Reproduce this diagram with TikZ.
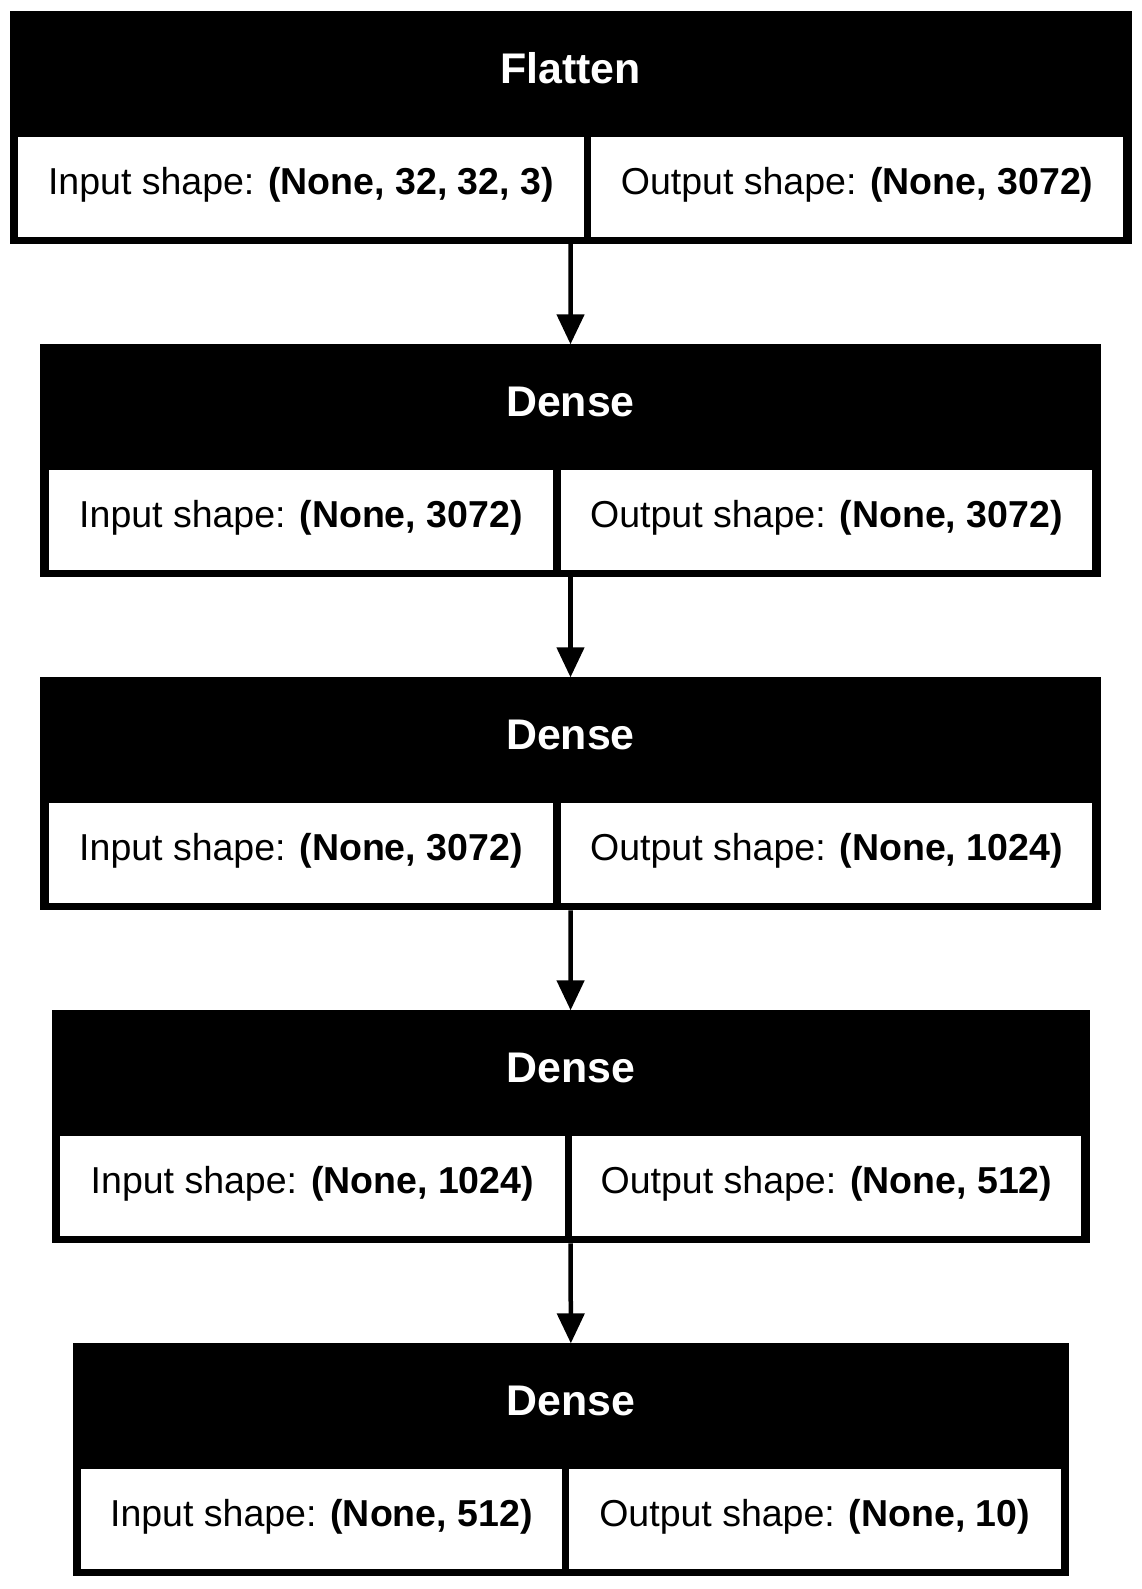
\documentclass[tikz,border=0pt]{standalone}
\usepackage{fontspec}
\setmainfont{Liberation Sans}
\usetikzlibrary{arrows.meta}
\newcommand{\px}{0.3733pt}
\tikzset{
 layerbox/.style={fill=black,inner sep=0pt,outer sep=0pt,anchor=north west},
 headtxt/.style={text=white,anchor=base,inner sep=0pt,font=\fontsize{16}{19}\selectfont\bfseries},
 shapetxt/.style={anchor=base,inner sep=0pt,font=\fontsize{14}{17}\selectfont},
 flow/.style={line width=1.68pt,-{Triangle[length=11.2pt,width=10.1pt]}}
}
\begin{document}
\begin{tikzpicture}[x=\px,y=-\px]
\useasboundingbox (0,0) rectangle (1142,1589);
\foreach \lname/\ytop/\xl/\xr/\xdiv/\cls/\inshape/\outshape in {
 flatten/11/9.6/1131.6/587.5/Flatten/{32, 32, 3}/3072,
 dense1/344.3/40.2/1100.8/556.8/Dense/3072/3072,
 dense2/677.3/40.2/1100.8/556.8/Dense/3072/1024,
 dense3/1010.3/51.7/1089.5/568.3/Dense/1024/512,
 dense4/1343.3/72.7/1069/565.2/Dense/512/10}{
 \node[layerbox,minimum width=(\xr-\xl)*\px,minimum height=233*\px] (\lname) at (\xl,\ytop) {};
 \fill[white] (\xl+8.5,\ytop+125.7) rectangle (\xdiv-3.7,\ytop+226);
 \fill[white] (\xdiv+3.7,\ytop+125.7) rectangle (\xr-8.5,\ytop+226);
 \node[headtxt] (\lname-cls) at ({(\xl+\xr)/2},\ytop+72.3) {\cls};
 \node[shapetxt] (\lname-in) at ({(\xl+\xdiv+4.8)/2},\ytop+183) {Input shape: \textbf{(None, \inshape)}};
 \node[shapetxt] (\lname-out) at ({(\xdiv+\xr-4.8)/2},\ytop+183) {Output shape: \textbf{(None, \outshape)}};
}
\foreach \a/\b in {flatten/dense1,dense1/dense2,dense2/dense3,dense3/dense4}
 \draw[flow] (\a.south) -- (\b.north);
\end{tikzpicture}
\end{document}
